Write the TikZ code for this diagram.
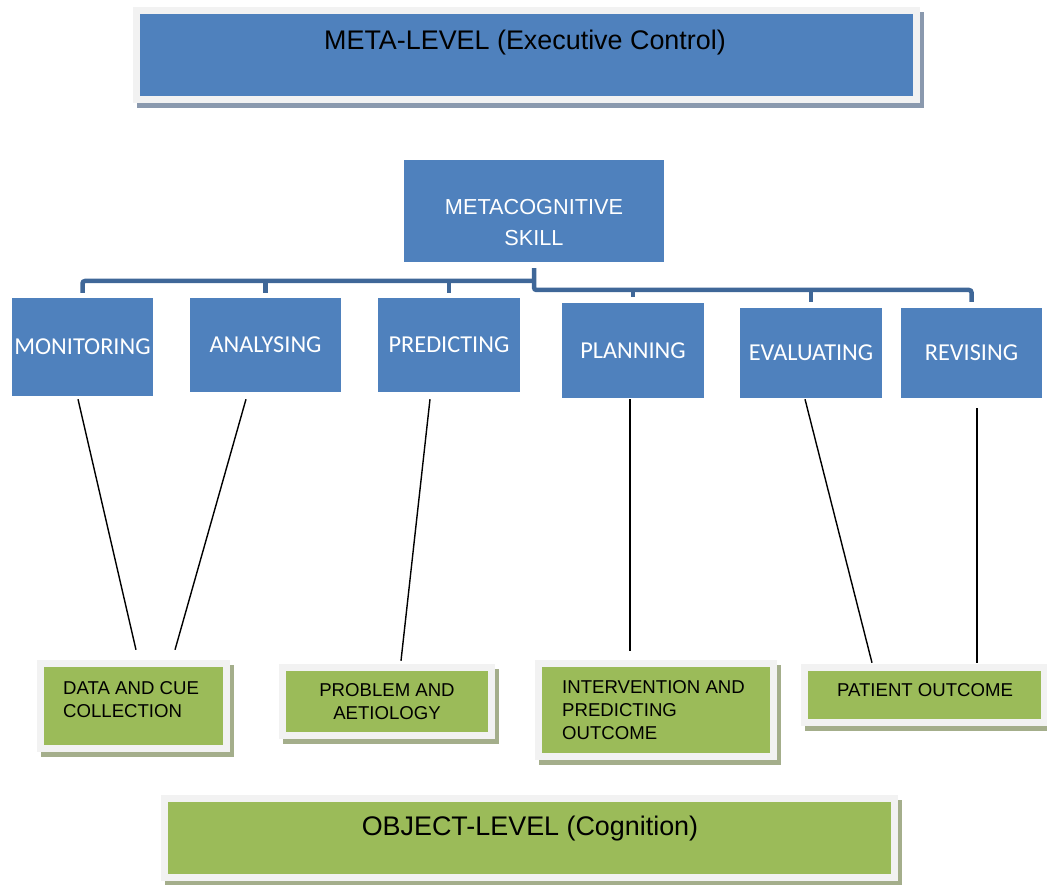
\documentclass[tikz,border=0pt]{standalone}
\usepackage{fontspec}
\setmainfont{Liberation Sans}
\newfontfamily\calibrifont{Carlito}
\usetikzlibrary{calc,backgrounds}
\definecolor{skillblue}{HTML}{4F81BD}
\definecolor{busblue}{HTML}{3F6798}
\definecolor{levelgreen}{HTML}{9BBB59}
\definecolor{framegrey}{HTML}{F2F2F2}
\definecolor{blueshadow}{HTML}{8A99AE}
\definecolor{greenshadow}{HTML}{A4AE8B}
\begin{document}
\begin{tikzpicture}[x=1pt,y=-1pt,
  bluebox/.style={fill=skillblue, text=white, inner sep=0pt},
  skillbox/.style={bluebox, font=\calibrifont\fontsize{24.3}{28}\selectfont},
  greenbox/.style={fill=levelgreen, inner sep=0pt, align=center,
                   font=\fontsize{18.6}{23.5}\selectfont},
  leveltext/.style={inner sep=0pt, font=\fontsize{26.9}{32}\selectfont},
  note/.style={inner sep=0pt, align=left, font=\fontsize{18.6}{23}\selectfont},
  bus/.style={draw=busblue, line width=4.5pt, rounded corners=2.5pt},
  link/.style={draw=black, line width=1.4pt}]
\useasboundingbox (0,0) rectangle (1047,885);

% top and bottom level bands
\node[bluebox, minimum width=773pt, minimum height=82pt] (metalevel) at (526.5,55) {};
\node[leveltext] (metatitle) at (525,42.5) {META-LEVEL (Executive Control)};
\node[greenbox, minimum width=723pt, minimum height=72pt] (objlevel) at (529.5,838) {};
\node[leveltext] (objtitle) at (530,828.5) {OBJECT-LEVEL (Cognition)};

% central skill box
\node[bluebox, minimum width=260pt, minimum height=102pt] (meta) at (534,211) {};
\node[inner sep=0pt, text=white, align=center, font=\fontsize{21.7}{31}\selectfont]
  (metatext) at (534,222.5) {METACOGNITIVE\\SKILL};

% the six skills
\node[skillbox, minimum width=141pt, minimum height=98pt] (mon) at (82.5,347) {MONITORING};
\node[skillbox, minimum width=151pt, minimum height=94pt] (ana) at (265.5,345) {ANALYSING};
\node[skillbox, minimum width=142pt, minimum height=94pt] (pre) at (449,345) {PREDICTING};
\node[skillbox, minimum width=142pt, minimum height=95pt] (pla) at (633,350.5) {PLANNING};
\node[skillbox, minimum width=142pt, minimum height=90pt] (eva) at (811,353) {EVALUATING};
\node[skillbox, minimum width=141pt, minimum height=90pt] (rev) at (971.5,353) {REVISING};

% cognitive stages
\node[greenbox, minimum width=179pt, minimum height=78pt] (dc) at (133.5,706) {};
\node[note, anchor=west] (dctext) at (63,699.5) {DATA AND CUE\\COLLECTION};
\node[greenbox, minimum width=202pt, minimum height=61pt] (pb) at (387,701.5) {PROBLEM AND\\AETIOLOGY};
\node[greenbox, minimum width=228pt, minimum height=86pt] (iv) at (656,710) {};
\node[note, anchor=west] (ivtext) at (562,710.5) {INTERVENTION AND\\PREDICTING\\OUTCOME};
\node[greenbox, minimum width=233pt, minimum height=48pt] (po) at (924.5,695) {};
\node[note] (potext) at (925,690) {PATIENT OUTCOME};

% light frames with drop shadows
\begin{scope}[on background layer]
  \foreach \n/\s in {metalevel/blueshadow, objlevel/greenshadow, dc/greenshadow,
                     pb/greenshadow, iv/greenshadow, po/greenshadow} {
    \fill[\s] ($(\n.north west)+(-3,-2)$) rectangle ($(\n.south east)+(11,12)$);
    \fill[framegrey] ($(\n.north west)+(-7,-7)$) rectangle ($(\n.south east)+(7,7)$);
  }
\end{scope}

% hierarchy connectors
\coordinate (leftrail) at (0,281);
\coordinate (rightrail) at (0,290);
\draw[bus] ([yshift=-6pt]meta.south) -- (meta.south |- rightrail)
  -- (rev.north |- rightrail) -- ([yshift=6pt]rev.north);
\draw[bus] (meta.south |- leftrail) -- (mon.north |- leftrail) -- ([yshift=5pt]mon.north);
\draw[bus] (ana.north |- leftrail) -- ([yshift=5pt]ana.north);
\draw[bus] (pre.north |- leftrail) -- ([yshift=5pt]pre.north);
\draw[bus] (pla.north |- rightrail) -- ([yshift=6pt]pla.north);
\draw[bus] (eva.north |- rightrail) -- ([yshift=6pt]eva.north);

% skill to cognition links
\draw[link] ($(mon.south)+(-4.5,3)$) -- ($(dc.north)+(2.5,-17)$);
\draw[link] ($(ana.south)+(-19.5,7)$) -- ($(dc.north)+(41.5,-17)$);
\draw[link] ($(pre.south)+(-19,7)$) -- ($(pb.north)+(14,-10)$);
\draw[link] ($(pla.south)+(-3,1)$) -- ($(iv.north)+(-26,-16)$);
\draw[link] ($(eva.south)+(-6,1)$) -- ($(po.north)+(-52.5,-8)$);
\draw[link] ($(rev.south)+(5.5,10)$) -- ($(po.north)+(52.5,-8)$);
\end{tikzpicture}
\end{document}
